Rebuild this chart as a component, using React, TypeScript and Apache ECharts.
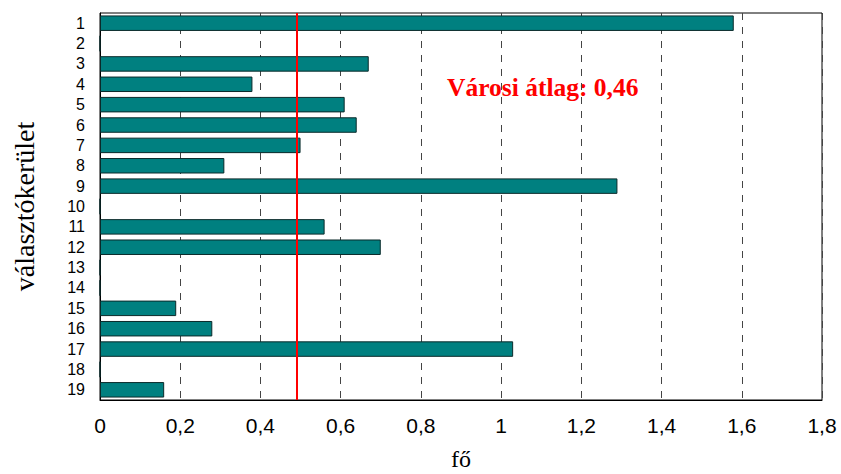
import React, { useEffect, useRef } from "react";
import * as echarts from "echarts";

const categories = ["1","2","3","4","5","6","7","8","9","10","11","12","13","14","15","16","17","18","19"];
const values = [1.58, 0, 0.67, 0.38, 0.61, 0.64, 0.50, 0.31, 1.29, 0, 0.56, 0.70, 0, 0, 0.19, 0.28, 1.03, 0, 0.16];
const averageLinePos = 0.49;
const annotation = "Városi átlag: 0,46";
const xAxisName = "fő";
const yAxisName = "választókerület";

export default function App() {
  const ref = useRef<HTMLDivElement>(null);
  useEffect(() => {
    document.body.style.margin = "0";
    if (!ref.current) return;
    const chart = echarts.init(ref.current, null, { renderer: "svg" });
    chart.setOption({
      animation: false,
      backgroundColor: "#ffffff",
      grid: {
        left: 100, right: 19, top: 13, bottom: 74,
        containLabel: false,
        outerBoundsMode: "none",
        show: true, borderColor: "#000", borderWidth: 1, backgroundColor: "transparent",
      },
      xAxis: {
        type: "value",
        min: 0,
        max: 1.8,
        interval: 0.2,
        name: xAxisName,
        nameLocation: "middle",
        nameGap: 47,
        nameTextStyle: { fontFamily: "Liberation Serif", fontSize: 24, color: "#000" },
        axisLine: { show: true, lineStyle: { color: "#000" } },
        axisTick: { show: false },
        axisLabel: {
          fontFamily: "Liberation Sans",
          fontSize: 21,
          color: "#000",
          margin: 15,
          formatter: (v: number) => String(Math.round(v * 10) / 10).replace(".", ","),
        },
        splitLine: { show: true, lineStyle: { color: "#444", type: [7, 7], width: 1 } },
      },
      yAxis: {
        type: "category",
        data: categories,
        inverse: true,
        name: yAxisName,
        nameLocation: "middle",
        nameRotate: 90,
        nameGap: 62,
        nameTextStyle: { fontFamily: "Liberation Serif", fontSize: 28, color: "#000" },
        axisLine: { show: true, lineStyle: { color: "#000" } },
        axisTick: { show: false },
        axisLabel: { fontFamily: "Liberation Sans", fontSize: 16, color: "#000", margin: 15, interval: 0 },
        splitLine: { show: false },
      },
      series: [
        {
          type: "bar",
          data: values,
          barCategoryGap: "24%",
          itemStyle: { color: "#008080", borderColor: "#0a2a2a", borderWidth: 1 },
          markLine: {
            silent: true,
            symbol: "none",
            label: { show: false },
            lineStyle: { color: "#ff0000", width: 2, type: "solid" },
            data: [{ xAxis: averageLinePos }],
          },
        },
      ],
      graphic: [
        {
          type: "text",
          x: 447,
          y: 87,
          style: { text: annotation, fill: "#ff0000", font: "bold 25.5px 'Liberation Serif'", verticalAlign: "middle" },
        },
      ],
    });
    return () => chart.dispose();
  }, []);
  return <div ref={ref} style={{ width: 841, height: 474 }} />;
}
